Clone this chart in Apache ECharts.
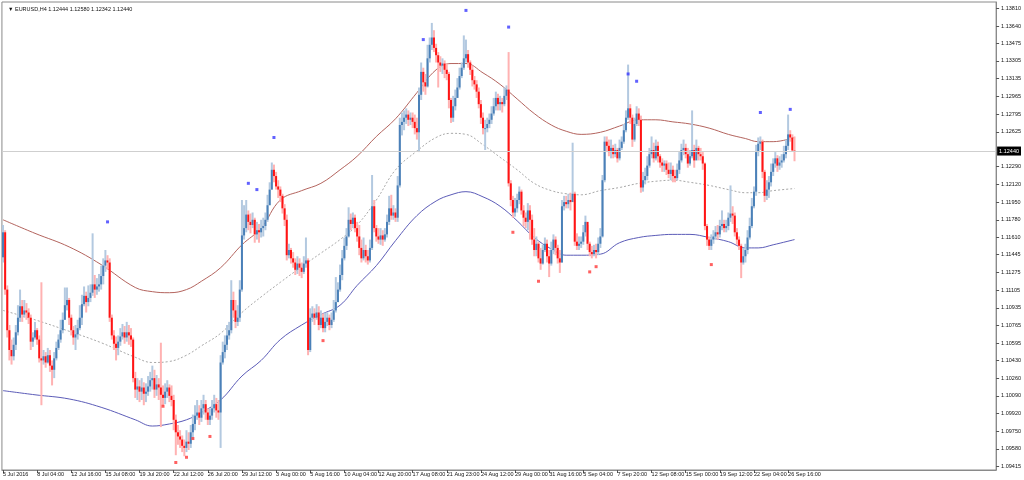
<!DOCTYPE html>
<html>
<head>
<meta charset="utf-8">
<script src="https://cdn.jsdelivr.net/npm/echarts@6.0.0/dist/echarts.min.js"></script>
<style>
html,body{margin:0;padding:0;background:#fff;}
#chart{width:1024px;height:480px;}
</style>
</head>
<body>
<div id="chart"></div>
<script>
const symbolName = 'EURUSD';
const timeframe = 'H4';
const firstOpen = 1.1142;
const closes = [1.1166,1.1111,1.1072,1.1053,1.1047,1.1058,1.1070,1.1084,1.1095,1.1087,
1.1091,1.1089,1.1084,1.1061,1.1065,1.1072,1.1063,1.1045,1.1043,1.1047,
1.1041,1.1048,1.1038,1.1034,1.1045,1.1055,1.1063,1.1072,1.1082,1.1096,
1.1101,1.1084,1.1072,1.1065,1.1068,1.1074,1.1084,1.1097,1.1105,1.1099,
1.1103,1.1108,1.1116,1.1111,1.1114,1.1116,1.1124,1.1134,1.1139,1.1137,
1.1084,1.1067,1.1059,1.1055,1.1061,1.1066,1.1070,1.1065,1.1070,1.1067,
1.1063,1.1026,1.1015,1.1018,1.1013,1.1017,1.1011,1.1013,1.1018,1.1024,
1.1026,1.1015,1.1020,1.1017,1.1010,1.1007,1.1013,1.1017,1.1009,1.1005,
1.0986,1.0974,1.0970,1.0967,1.0961,1.0959,1.0965,1.0963,1.0974,1.0982,
1.0990,1.0993,1.0988,1.0997,1.1001,1.0993,1.0986,1.0990,1.0997,1.1001,
1.0995,1.0993,1.1041,1.1051,1.1058,1.1067,1.1072,1.1101,1.1091,1.1080,
1.1084,1.1111,1.1163,1.1170,1.1183,1.1176,1.1173,1.1178,1.1164,1.1168,
1.1166,1.1170,1.1172,1.1178,1.1192,1.1207,1.1226,1.1220,1.1210,1.1207,
1.1201,1.1189,1.1178,1.1144,1.1149,1.1141,1.1137,1.1130,1.1136,1.1132,
1.1128,1.1136,1.1139,1.1053,1.1084,1.1088,1.1084,1.1089,1.1077,1.1084,
1.1074,1.1080,1.1084,1.1077,1.1082,1.1091,1.1099,1.1111,1.1125,1.1141,
1.1153,1.1162,1.1178,1.1174,1.1180,1.1170,1.1162,1.1151,1.1141,1.1149,
1.1143,1.1139,1.1151,1.1191,1.1170,1.1162,1.1159,1.1163,1.1159,1.1164,
1.1176,1.1189,1.1182,1.1185,1.1180,1.1211,1.1269,1.1272,1.1276,1.1279,
1.1274,1.1276,1.1272,1.1266,1.1262,1.1298,1.1320,1.1310,1.1306,1.1333,
1.1346,1.1353,1.1343,1.1336,1.1329,1.1326,1.1328,1.1322,1.1318,1.1293,
1.1276,1.1287,1.1295,1.1305,1.1316,1.1324,1.1333,1.1337,1.1329,1.1322,
1.1312,1.1308,1.1301,1.1289,1.1276,1.1266,1.1266,1.1270,1.1274,1.1280,
1.1287,1.1295,1.1289,1.1291,1.1289,1.1297,1.1303,1.1213,1.1197,1.1185,
1.1189,1.1197,1.1205,1.1187,1.1180,1.1176,1.1187,1.1178,1.1159,1.1149,
1.1155,1.1141,1.1136,1.1149,1.1155,1.1143,1.1136,1.1149,1.1159,1.1151,
1.1141,1.1137,1.1191,1.1195,1.1193,1.1197,1.1195,1.1203,1.1157,1.1153,
1.1155,1.1157,1.1166,1.1176,1.1155,1.1147,1.1145,1.1149,1.1147,1.1155,
1.1162,1.1216,1.1253,1.1249,1.1243,1.1247,1.1241,1.1245,1.1237,1.1247,
1.1253,1.1264,1.1276,1.1285,1.1276,1.1255,1.1270,1.1280,1.1274,1.1209,
1.1216,1.1220,1.1230,1.1241,1.1245,1.1237,1.1249,1.1239,1.1233,1.1230,
1.1232,1.1226,1.1222,1.1226,1.1220,1.1218,1.1226,1.1235,1.1245,1.1247,
1.1241,1.1232,1.1239,1.1245,1.1235,1.1247,1.1241,1.1239,1.1232,1.1172,
1.1159,1.1153,1.1159,1.1162,1.1166,1.1164,1.1172,1.1174,1.1170,1.1172,
1.1180,1.1184,1.1182,1.1166,1.1159,1.1153,1.1137,1.1143,1.1149,1.1161,
1.1172,1.1191,1.1205,1.1243,1.1251,1.1253,1.1224,1.1201,1.1207,1.1214,
1.1224,1.1232,1.1237,1.1230,1.1233,1.1235,1.1241,1.1249,1.1260,1.1257,
1.12444,1.12440];
const highs = [1.1173,1.1168,1.1115,1.1077,1.1063,1.1065,1.1077,1.1096,1.1111,1.1101,
1.1101,1.1098,1.1093,1.1087,1.1070,1.1080,1.1074,1.1067,1.1118,1.1053,
1.1051,1.1055,1.1053,1.1043,1.1051,1.1061,1.1068,1.1082,1.1089,1.1113,
1.1113,1.1103,1.1087,1.1076,1.1077,1.1082,1.1096,1.1106,1.1114,1.1109,
1.1115,1.1116,1.1165,1.1125,1.1122,1.1126,1.1134,1.1141,1.1149,1.1144,
1.1141,1.1087,1.1072,1.1066,1.1067,1.1074,1.1078,1.1076,1.1080,1.1077,
1.1074,1.1065,1.1032,1.1026,1.1024,1.1026,1.1022,1.1021,1.1028,1.1032,
1.1038,1.1034,1.1029,1.1026,1.1060,1.1019,1.1021,1.1024,1.1020,1.1019,
1.1010,1.0991,1.0981,1.0976,1.0971,1.0967,1.0976,1.0974,1.0981,1.0991,
1.1000,1.1005,1.1000,1.1005,1.1010,1.1005,1.0997,1.0997,1.1005,1.1010,
1.1007,1.1005,1.1048,1.1061,1.1067,1.1077,1.1080,1.1120,1.1109,1.1101,
1.1096,1.1120,1.1197,1.1192,1.1197,1.1187,1.1184,1.1185,1.1180,1.1176,
1.1174,1.1178,1.1180,1.1185,1.1202,1.1214,1.1233,1.1231,1.1224,1.1216,
1.1210,1.1203,1.1193,1.1183,1.1155,1.1151,1.1147,1.1141,1.1143,1.1141,
1.1137,1.1143,1.1161,1.1141,1.1093,1.1095,1.1093,1.1097,1.1095,1.1091,
1.1088,1.1089,1.1089,1.1087,1.1089,1.1101,1.1123,1.1118,1.1135,1.1149,
1.1161,1.1170,1.1190,1.1184,1.1185,1.1183,1.1176,1.1173,1.1159,1.1161,
1.1154,1.1149,1.1159,1.1221,1.1197,1.1173,1.1170,1.1170,1.1168,1.1170,
1.1183,1.1201,1.1202,1.1192,1.1189,1.1220,1.1276,1.1281,1.1283,1.1285,
1.1283,1.1281,1.1281,1.1279,1.1276,1.1305,1.1329,1.1324,1.1318,1.1346,
1.1353,1.1367,1.1360,1.1347,1.1339,1.1335,1.1333,1.1331,1.1328,1.1320,
1.1295,1.1297,1.1303,1.1314,1.1324,1.1329,1.1355,1.1351,1.1341,1.1331,
1.1326,1.1316,1.1312,1.1305,1.1293,1.1281,1.1274,1.1276,1.1280,1.1287,
1.1295,1.1301,1.1299,1.1297,1.1295,1.1305,1.1307,1.1339,1.1216,1.1201,
1.1199,1.1203,1.1210,1.1207,1.1192,1.1185,1.1194,1.1192,1.1183,1.1170,
1.1162,1.1157,1.1151,1.1154,1.1161,1.1159,1.1149,1.1157,1.1164,1.1162,
1.1154,1.1149,1.1197,1.1201,1.1201,1.1203,1.1204,1.1252,1.1205,1.1165,
1.1162,1.1162,1.1173,1.1182,1.1173,1.1157,1.1153,1.1154,1.1155,1.1161,
1.1170,1.1221,1.1258,1.1258,1.1255,1.1255,1.1250,1.1251,1.1247,1.1255,
1.1258,1.1270,1.1283,1.1327,1.1289,1.1279,1.1276,1.1287,1.1285,1.1278,
1.1224,1.1228,1.1239,1.1247,1.1258,1.1252,1.1255,1.1253,1.1241,1.1237,
1.1235,1.1235,1.1233,1.1233,1.1230,1.1226,1.1232,1.1243,1.1251,1.1255,
1.1251,1.1247,1.1245,1.1283,1.1250,1.1255,1.1249,1.1247,1.1243,1.1233,
1.1174,1.1162,1.1164,1.1168,1.1172,1.1173,1.1178,1.1187,1.1178,1.1178,
1.1185,1.1211,1.1191,1.1185,1.1170,1.1162,1.1155,1.1151,1.1155,1.1168,
1.1180,1.1199,1.1210,1.1250,1.1257,1.1258,1.1255,1.1226,1.1216,1.1220,
1.1232,1.1237,1.1243,1.1240,1.1239,1.1241,1.1249,1.1255,1.1279,1.1264,
1.1260,1.12580];
const lows = [1.1137,1.1106,1.1065,1.1043,1.1039,1.1043,1.1053,1.1067,1.1080,1.1080,
1.1084,1.1082,1.1078,1.1053,1.1056,1.1063,1.1058,1.1041,1.1000,1.1039,
1.1036,1.1040,1.1032,1.1019,1.1026,1.1043,1.1053,1.1060,1.1069,1.1082,
1.1091,1.1077,1.1067,1.1058,1.1053,1.1063,1.1072,1.1077,1.1095,1.1089,
1.1095,1.1099,1.1105,1.1103,1.1106,1.1109,1.1111,1.1116,1.1128,1.1130,
1.1080,1.1063,1.1053,1.1043,1.1048,1.1057,1.1063,1.1059,1.1061,1.1058,
1.1056,1.1022,1.1007,1.1005,1.1003,1.1005,1.1000,1.1003,1.1009,1.1013,
1.1015,1.1007,1.1009,1.1005,1.0979,1.0999,1.1001,1.1007,1.1003,1.0999,
1.0976,1.0952,1.0962,1.0959,1.0955,1.0951,1.0955,1.0957,1.0959,1.0967,
1.0976,1.0986,1.0981,1.0984,1.0991,1.0986,1.0981,1.0981,1.0986,1.0993,
1.0988,1.0986,1.0959,1.1039,1.1045,1.1053,1.1063,1.1069,1.1084,1.1074,
1.1076,1.1080,1.1109,1.1159,1.1166,1.1168,1.1165,1.1170,1.1156,1.1159,
1.1156,1.1161,1.1162,1.1168,1.1176,1.1192,1.1207,1.1214,1.1207,1.1199,
1.1195,1.1184,1.1172,1.1139,1.1141,1.1136,1.1132,1.1125,1.1126,1.1124,
1.1122,1.1126,1.1132,1.1048,1.1051,1.1080,1.1077,1.1082,1.1072,1.1074,
1.1070,1.1070,1.1076,1.1072,1.1074,1.1080,1.1089,1.1099,1.1109,1.1120,
1.1139,1.1149,1.1161,1.1168,1.1170,1.1166,1.1157,1.1144,1.1137,1.1139,
1.1137,1.1135,1.1137,1.1149,1.1166,1.1157,1.1155,1.1154,1.1153,1.1157,
1.1161,1.1173,1.1178,1.1178,1.1176,1.1176,1.1209,1.1259,1.1264,1.1270,
1.1268,1.1269,1.1266,1.1260,1.1255,1.1243,1.1293,1.1301,1.1298,1.1305,
1.1329,1.1341,1.1339,1.1329,1.1305,1.1320,1.1318,1.1314,1.1312,1.1285,
1.1271,1.1272,1.1283,1.1295,1.1303,1.1314,1.1322,1.1329,1.1324,1.1317,
1.1306,1.1303,1.1295,1.1285,1.1270,1.1260,1.1245,1.1262,1.1266,1.1270,
1.1278,1.1283,1.1283,1.1283,1.1281,1.1287,1.1293,1.1210,1.1191,1.1180,
1.1181,1.1185,1.1193,1.1183,1.1172,1.1170,1.1168,1.1159,1.1154,1.1143,
1.1143,1.1137,1.1130,1.1135,1.1147,1.1137,1.1123,1.1134,1.1145,1.1144,
1.1136,1.1127,1.1137,1.1187,1.1189,1.1189,1.1187,1.1197,1.1153,1.1149,
1.1149,1.1151,1.1154,1.1162,1.1149,1.1143,1.1141,1.1143,1.1141,1.1144,
1.1151,1.1161,1.1214,1.1243,1.1239,1.1237,1.1237,1.1238,1.1233,1.1235,
1.1245,1.1251,1.1262,1.1274,1.1270,1.1248,1.1253,1.1268,1.1268,1.1204,
1.1205,1.1212,1.1216,1.1228,1.1237,1.1233,1.1235,1.1233,1.1228,1.1224,
1.1224,1.1221,1.1218,1.1216,1.1214,1.1214,1.1216,1.1222,1.1233,1.1240,
1.1237,1.1228,1.1230,1.1237,1.1228,1.1237,1.1235,1.1235,1.1226,1.1168,
1.1153,1.1149,1.1149,1.1155,1.1159,1.1159,1.1161,1.1168,1.1166,1.1166,
1.1168,1.1176,1.1174,1.1162,1.1154,1.1149,1.1122,1.1135,1.1137,1.1145,
1.1159,1.1170,1.1189,1.1201,1.1239,1.1245,1.1218,1.1195,1.1197,1.1199,
1.1210,1.1220,1.1228,1.1224,1.1226,1.1228,1.1233,1.1237,1.1245,1.1253,
1.1245,1.12342];

const bandIdx = [0,15,31,46,62,70,78,86,93,102,112,121,130,140,149,158,166,175,184,194,203,210,217,225,233,241,249,257,264,271,280,289,298,306,314,322,331,340,348,354,361,371];
const upperBand = [1.1178,1.1165,1.1152,1.1135,1.1113,1.1109,1.1108,1.1111,1.1119,1.1132,1.1154,1.1170,1.1197,1.1206,1.1213,1.1226,1.1239,1.1258,1.1275,1.1300,1.1322,1.1328,1.1328,1.1319,1.1308,1.1294,1.1280,1.1269,1.1263,1.1260,1.1262,1.1268,1.1274,1.1274,1.1272,1.1270,1.1266,1.1260,1.1256,1.1253,1.1253,1.1257];
const middleBand = [1.1091,1.1082,1.1071,1.1060,1.1046,1.1041,1.1042,1.1048,1.1057,1.1069,1.1089,1.1104,1.1118,1.1133,1.1146,1.1159,1.1173,1.1197,1.1226,1.1244,1.1257,1.1261,1.1260,1.1250,1.1238,1.1226,1.1213,1.1206,1.1203,1.1202,1.1206,1.1209,1.1213,1.1215,1.1216,1.1214,1.1211,1.1207,1.1204,1.1204,1.1206,1.1208];
const lowerBand = [1.1014,1.1010,1.1006,1.0998,1.0986,1.0980,1.0982,1.0986,1.0993,1.1005,1.1028,1.1043,1.1063,1.1077,1.1087,1.1096,1.1115,1.1134,1.1158,1.1182,1.1196,1.1202,1.1205,1.1200,1.1191,1.1177,1.1161,1.1150,1.1144,1.1144,1.1145,1.1156,1.1161,1.1163,1.1164,1.1164,1.1161,1.1157,1.1151,1.1151,1.1154,1.1159];

const upMarkIdx = [49,115,119,127,197,217,237,293,297,355,369];
const upMarkPrice = [1.1176,1.1213,1.1207,1.1257,1.1351,1.1379,1.1363,1.1318,1.1311,1.1281,1.1284];
const downMarkIdx = [75,81,86,89,97,150,239,251,275,278,332];
const downMarkPrice = [1.0999,1.0945,1.0950,1.0968,1.0970,1.1062,1.1166,1.1119,1.1128,1.1133,1.1135];

const xTickLabels = ['5 Jul 2016','8 Jul 04:00','12 Jul 16:00','15 Jul 08:00','19 Jul 20:00','22 Jul 12:00','26 Jul 20:00','29 Jul 12:00','3 Aug 00:00','5 Aug 16:00','10 Aug 04:00','12 Aug 20:00','17 Aug 08:00','21 Aug 23:00','24 Aug 12:00','29 Aug 00:00','31 Aug 16:00','5 Sep 04:00','7 Sep 20:00','12 Sep 08:00','15 Sep 00:00','19 Sep 12:00','22 Sep 04:00','26 Sep 16:00'];
const yTickValues = [1.13810,1.13640,1.13475,1.13305,1.13135,1.12965,1.12795,1.12625,1.12290,1.12120,1.11950,1.11780,1.11610,1.11445,1.11275,1.11105,1.10935,1.10765,1.10595,1.10430,1.10260,1.10090,1.09920,1.09750,1.09580,1.09415];

// layout constants
const LABEL_EVERY = 16;
const TOTAL_SLOTS = 466;
const Y_MIN = 1.09378, Y_MAX = 1.138708;
const FONT = 'Liberation Sans, Arial, sans-serif';

const N = closes.length;
const candleData = [];
for (let i = 0; i < N; i++) {
  const o = i === 0 ? firstOpen : closes[i - 1];
  candleData.push([i, o, closes[i], lows[i], highs[i]]);
}
const lastOpen = closes[N - 2];
const categories = [];
for (let i = 0; i < TOTAL_SLOTS; i++) categories.push(String(i));

const fmt5 = v => Number(v).toFixed(5);
const headerText = '\u25BC ' + symbolName + ',' + timeframe + ' ' + fmt5(lastOpen) + ' ' + fmt5(highs[N-1]) + ' ' + fmt5(lows[N-1]) + ' ' + fmt5(closes[N-1]);

const COLORS = {
  upBody: '#4a80b8', upWick: '#b3c9e0',
  dnBody: '#ff1414', dnWick: '#ffb2b2',
  upper: '#b4645e', middle: '#a8a8a8', lower: '#5c5cb8'
};

function labelShown(idx) {
  return idx % LABEL_EVERY === 0 && idx / LABEL_EVERY < xTickLabels.length;
}

const chart = echarts.init(document.getElementById('chart'), null, {renderer: 'canvas'});
chart.setOption({
  animation: false,
  backgroundColor: '#ffffff',
  title: {
    text: headerText, left: 3, top: 1,
    textStyle: {fontSize: 5.5, fontWeight: 'normal', color: '#111', fontFamily: FONT}
  },
  grid: {left: 1, right: 26, top: 2, bottom: 10, show: true, borderColor: '#8a8a8a', borderWidth: 1},
  xAxis: {
    type: 'category', data: categories, boundaryGap: true,
    axisLine: {show: true, lineStyle: {color: '#8a8a8a', width: 1}},
    axisTick: {show: true, alignWithLabel: true, length: 3, interval: (i) => labelShown(i), lineStyle: {color: '#555'}},
    axisLabel: {
      show: true, interval: (i) => labelShown(i), align: 'left', margin: 1,
      formatter: (v, i) => xTickLabels[Math.round(Number(v) / LABEL_EVERY)] || '',
      fontSize: 5.5, color: '#111', fontFamily: FONT
    },
    splitLine: {show: false}
  },
  yAxis: {
    type: 'value', position: 'right', min: Y_MIN, max: Y_MAX, scale: true,
    axisLine: {show: true, lineStyle: {color: '#8a8a8a', width: 1}},
    axisTick: {show: true, length: 3, customValues: yTickValues, lineStyle: {color: '#555'}},
    axisLabel: {show: true, customValues: yTickValues, formatter: v => fmt5(v), margin: 5,
      fontSize: 5.5, color: '#111', fontFamily: FONT},
    splitLine: {show: false}
  },
  series: [
    {
      type: 'line', name: 'upper', data: bandIdx.map((b, k) => [b, upperBand[k]]),
      smooth: 0.4, symbol: 'none', lineStyle: {color: COLORS.upper, width: 1}, z: 1,
      markLine: {
        silent: true, symbol: 'none', animation: false, precision: 5,
        lineStyle: {color: '#cfcfcf', type: 'solid', width: 1},
        data: [{yAxis: closes[N - 1]}],
        label: {position: 'end', distance: 1, formatter: p => fmt5(p.value), color: '#fff',
          backgroundColor: '#000', padding: [2, 2, 1, 2], fontSize: 5.5, fontFamily: FONT}
      }
    },
    {
      type: 'line', name: 'middle', data: bandIdx.map((b, k) => [b, middleBand[k]]),
      smooth: 0.4, symbol: 'none', lineStyle: {color: COLORS.middle, width: 1, type: [2, 2]}, z: 1
    },
    {
      type: 'line', name: 'lower', data: bandIdx.map((b, k) => [b, lowerBand[k]]),
      smooth: 0.4, symbol: 'none', lineStyle: {color: COLORS.lower, width: 1}, z: 1
    },
    {
      type: 'custom', name: 'candles', data: candleData, z: 3,
      encode: {x: 0, y: [1, 2, 3, 4]},
      renderItem: function (params, api) {
        const i = api.value(0), o = api.value(1), c = api.value(2), l = api.value(3), h = api.value(4);
        const pH = api.coord([i, h]), pL = api.coord([i, l]);
        const pO = api.coord([i, o]), pC = api.coord([i, c]);
        const up = c >= o;
        const x = pH[0];
        const top = Math.min(pO[1], pC[1]), bot = Math.max(pO[1], pC[1]);
        return {
          type: 'group',
          children: [
            {type: 'rect', shape: {x: x - 1, y: pH[1], width: 2, height: Math.max(1, pL[1] - pH[1])},
              style: {fill: up ? COLORS.upWick : COLORS.dnWick}},
            {type: 'rect', shape: {x: x - 1, y: top, width: 2, height: Math.max(1, bot - top)},
              style: {fill: up ? COLORS.upBody : COLORS.dnBody}}
          ]
        };
      }
    },
    {
      type: 'scatter', name: 'up marks', data: upMarkIdx.map((b, k) => [b, upMarkPrice[k]]),
      symbol: 'rect', symbolSize: 3, itemStyle: {color: '#3a3aff'}, z: 4
    },
    {
      type: 'scatter', name: 'down marks', data: downMarkIdx.map((b, k) => [b, downMarkPrice[k]]),
      symbol: 'rect', symbolSize: 3, itemStyle: {color: '#ff3a3a'}, z: 4
    }
  ]
});
</script>
</body>
</html>
